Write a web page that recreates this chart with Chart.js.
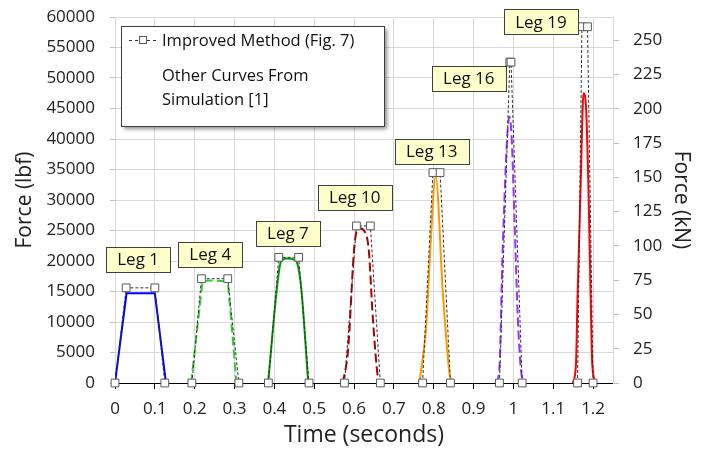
<!DOCTYPE html>
<html><head><meta charset="utf-8">
<script src="https://cdn.jsdelivr.net/npm/chart.js@4.4.0/dist/chart.umd.min.js"></script>
<style>html,body{margin:0;padding:0;background:#fff;}</style>
</head><body>
<canvas id="c" width="704" height="449"></canvas>
<script>
// ---- tick labels ----
const xTicks = [0, 0.1, 0.2, 0.3, 0.4, 0.5, 0.6, 0.7, 0.8, 0.9, 1, 1.1, 1.2];
const yLbfTicks = [0, 5000, 10000, 15000, 20000, 25000, 30000, 35000, 40000, 45000, 50000, 55000, 60000];
const yKnTicks = [0, 25, 50, 75, 100, 125, 150, 175, 200, 225, 250];

// ---- categories ----
const legNames = ['Leg 1', 'Leg 4', 'Leg 7', 'Leg 10', 'Leg 13', 'Leg 16', 'Leg 19'];

// ---- Improved Method (Fig. 7): time (s) and force (lbf) per leg ----
const impTime = [
  [0, 0.028, 0.100, 0.125],
  [0.193, 0.217, 0.283, 0.311],
  [0.385, 0.411, 0.461, 0.487],
  [0.576, 0.606, 0.641, 0.666],
  [0.772, 0.798, 0.816, 0.842],
  [0.965, 0.991, 0.994, 1.022],
  [1.161, 1.172, 1.186, 1.200]
];
const impForce = [
  [0, 15600, 15600, 0],
  [0, 17100, 17100, 0],
  [0, 20600, 20600, 0],
  [0, 25750, 25750, 0],
  [0, 34500, 34500, 0],
  [0, 52600, 52600, 0],
  [0, 58400, 58400, 0]
];

// ---- Other curves from simulation [1] ----
const simTime = [
  [0, 0.029, 0.100, 0.128],
  [0.191, 0.220, 0.250, 0.276, 0.284, 0.305],
  [0.384, 0.414, 0.422, 0.430, 0.451, 0.459, 0.468, 0.485],
  [0.572, 0.585, 0.6015, 0.614, 0.627, 0.637, 0.647, 0.660, 0.664],
  [0.764, 0.781, 0.790, 0.805, 0.823, 0.840, 0.848],
  [0.957, 0.965, 0.973, 0.990, 0.9955, 1.0025, 1.011, 1.019, 1.028],
  [1.149, 1.157, 1.161, 1.169, 1.176, 1.182, 1.188, 1.194, 1.198, 1.207]
];
const simForce = [
  [0, 14700, 14700, 0],
  [0, 16770, 16800, 16700, 16000, 0],
  [0, 19300, 20250, 20400, 20200, 19300, 15200, 0],
  [0, 5400, 22900, 25350, 24800, 21800, 10870, 800, 0],
  [0, 9200, 20200, 33800, 14700, 1400, 0],
  [0, 2600, 21800, 43650, 40400, 27300, 10900, 2100, 0],
  [0, 3000, 13880, 33000, 47490, 45570, 33000, 13880, 3000, 0]
];

// ---- leg label anchors (data units) ----
const legLabelTime = [0.058, 0.239, 0.434, 0.6015, 0.795, 0.888, 1.069];
const legLabelForce = [20250, 21070, 24500, 30400, 38030, 49900, 59200];

// ---- styles ----
const simColors = ['#0000ff', '#33cc33', '#009900', '#aa0000', '#ff9900', '#9933ff', '#ff0000'];
const simDashed = [false, true, false, true, false, true, false];
const simSmooth = [false, false, true, true, true, true, true];

const LBF_TO_KN = 4.44822 / 1000;
const FONT = "'Open Sans', 'DejaVu Sans', sans-serif";
Chart.defaults.font.family = FONT;
Chart.defaults.color = '#222';

const datasets = [];
impTime.forEach((ts, i) => {
  datasets.push({
    label: 'Improved ' + legNames[i],
    data: ts.map((t, j) => ({ x: t, y: impForce[i][j] })),
    borderColor: '#333',
    borderWidth: 1,
    borderDash: [3, 2],
    pointStyle: 'rect',
    pointRadius: 5.5,
    pointBackgroundColor: '#fff',
    pointBorderColor: '#595959',
    pointBorderWidth: 1,
    tension: 0,
    clip: false,
    yAxisID: 'y'
  });
});
simTime.forEach((ts, i) => {
  datasets.push({
    label: 'Simulation ' + legNames[i],
    data: ts.map((t, j) => ({ x: t, y: simForce[i][j] })),
    borderColor: simColors[i],
    borderWidth: 2,
    borderDash: simDashed[i] ? [9, 4] : [],
    pointRadius: 0,
    cubicInterpolationMode: simSmooth[i] ? 'monotone' : 'default',
    tension: 0,
    yAxisID: 'y'
  });
});

const labelPlugin = {
  id: 'legLabels',
  afterDatasetsDraw(chart) {
    const ctx = chart.ctx, xs = chart.scales.x, ys = chart.scales.y;
    ctx.save();
    ctx.font = '17px ' + FONT;
    ctx.textAlign = 'center';
    ctx.textBaseline = 'middle';
    legNames.forEach((name, i) => {
      const cx = xs.getPixelForValue(legLabelTime[i]);
      const cy = ys.getPixelForValue(legLabelForce[i]);
      const w = Math.round(ctx.measureText(name).width + 22);
      const h = 25;
      const x0 = Math.round(cx - w / 2) + 0.5, y0 = Math.round(cy - h / 2) + 0.5;
      ctx.fillStyle = '#ffffcc';
      ctx.fillRect(x0, y0, w, h);
      ctx.strokeStyle = '#404040';
      ctx.lineWidth = 1;
      ctx.strokeRect(x0, y0, w, h);
      ctx.fillStyle = '#111';
      ctx.fillText(name, cx, cy + 1);
    });
    ctx.restore();
  }
};

const legendPlugin = {
  id: 'boxLegend',
  afterDraw(chart) {
    const ctx = chart.ctx;
    ctx.save();
    const bx = 121, by = 26, bw = 263, bh = 100;
    ctx.shadowColor = 'rgba(0,0,0,0.45)';
    ctx.shadowBlur = 4; ctx.shadowOffsetX = 3; ctx.shadowOffsetY = 3;
    ctx.fillStyle = '#fff';
    ctx.fillRect(bx, by, bw, bh);
    ctx.shadowColor = 'rgba(0,0,0,0)';
    ctx.strokeStyle = '#404040'; ctx.lineWidth = 1;
    ctx.strokeRect(bx + 0.5, by + 0.5, bw, bh);
    // sample symbol
    ctx.strokeStyle = '#333';
    ctx.setLineDash([3, 3]);
    ctx.beginPath(); ctx.moveTo(129, 40.5); ctx.lineTo(157, 40.5); ctx.stroke();
    ctx.setLineDash([]);
    ctx.fillStyle = '#fff'; ctx.strokeStyle = '#595959';
    ctx.fillRect(139.5, 36.5, 7, 7); ctx.strokeRect(139.5, 36.5, 7, 7);
    ctx.fillStyle = '#111';
    ctx.font = '16.5px ' + FONT;
    ctx.textAlign = 'left'; ctx.textBaseline = 'middle';
    ctx.fillText('Improved Method (Fig. 7)', 162, 41);
    ctx.fillText('Other Curves From', 162, 76);
    ctx.fillText('Simulation [1]', 162, 100);
    ctx.restore();
  }
};

new Chart(document.getElementById('c'), {
  type: 'line',
  data: { datasets },
  plugins: [labelPlugin, legendPlugin],
  options: {
    responsive: false,
    animation: false,
    devicePixelRatio: 1,
    events: [],
    layout: { padding: { top: 17, left: 0, right: 0, bottom: 0 }, autoPadding: false },
    plugins: { legend: { display: false }, tooltip: { enabled: false } },
    scales: {
      x: {
        type: 'linear', min: 0, max: 1.25,
        afterBuildTicks: s => { s.ticks = xTicks.map(v => ({ value: v })); },
        afterFit: s => { s.height = 66; s.paddingLeft = 0; s.paddingRight = 0; },
        ticks: { autoSkip: false, maxRotation: 0, padding: 10, font: { size: 17 }, color: '#222',
          callback: v => String(+Number(v).toFixed(1)) },
        grid: { color: '#d9d9d9', tickColor: '#000', tickLength: 6, lineWidth: 1 },
        border: { color: '#000', width: 1 },
        title: { display: true, text: 'Time (seconds)', font: { size: 23 }, color: '#222', padding: { top: 0, bottom: 0 } }
      },
      y: {
        type: 'linear', position: 'left', min: 0, max: 60000,
        afterBuildTicks: s => { s.ticks = yLbfTicks.map(v => ({ value: v })); },
        afterFit: s => { s.width = 115; s.paddingTop = 0; s.paddingBottom = 0; },
        ticks: { padding: 15, font: { size: 17 }, color: '#222', callback: v => String(v) },
        grid: { color: c => (c.tick && c.tick.value === 0) ? 'rgba(0,0,0,0)' : '#d9d9d9', tickColor: '#bfbfbf', tickLength: 5 },
        border: { color: '#d9d9d9' },
        title: { display: true, text: 'Force (lbf)', font: { size: 21 }, color: '#222', padding: { top: 12, bottom: 0 } }
      },
      y2: {
        type: 'linear', position: 'right', min: 0, max: 60000 * LBF_TO_KN,
        afterBuildTicks: s => { s.ticks = yKnTicks.map(v => ({ value: v })); },
        afterFit: s => { s.width = 91; s.paddingTop = 0; s.paddingBottom = 0; },
        ticks: { padding: 14, font: { size: 17 }, color: '#222', callback: v => String(v) },
        grid: { drawOnChartArea: false, tickColor: '#bfbfbf', tickLength: 6 },
        border: { color: '#d9d9d9' },
        title: { display: true, text: 'Force (kN)', font: { size: 21 }, color: '#222', padding: { top: 10, bottom: 0 } }
      }
    }
  }
});
</script>
</body></html>
